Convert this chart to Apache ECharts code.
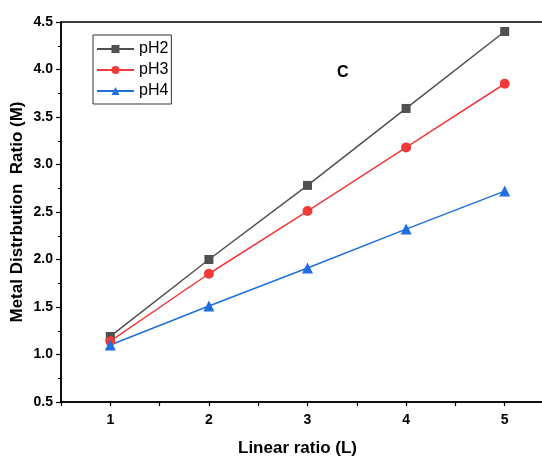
<!DOCTYPE html>
<html>
<head>
<meta charset="utf-8">
<script src="https://cdn.jsdelivr.net/npm/echarts@6/dist/echarts.min.js"></script>
<style>
  html, body { margin: 0; padding: 0; background: #fff; }
  #chart { width: 542px; height: 456px; }
</style>
</head>
<body>
<div id="chart"></div>
<script>
// Linear ratio (L) on the x axis
const ratios = [1, 2, 3, 4, 5];
// Metal distribution ratio (M) per pH
const pH2 = [1.19, 2.00, 2.78, 3.59, 4.40];
const pH3 = [1.14, 1.85, 2.51, 3.18, 3.85];
const pH4 = [1.10, 1.51, 1.91, 2.32, 2.72];

const font = 'Liberation Sans, Arial, sans-serif';
const pairs = arr => ratios.map((x, i) => [x, arr[i]]);

const chart = echarts.init(document.getElementById('chart'), null, { renderer: 'canvas' });

function line(name, data, color, symbol, size) {
  return {
    name, type: 'line', data: pairs(data),
    symbol, symbolSize: size,
    lineStyle: { color, width: 1.5 },
    itemStyle: { color },
    emphasis: { disabled: true },
    z: 3
  };
}

chart.setOption({
  animation: false,
  backgroundColor: '#fff',
  // plot area runs past the right edge of the canvas
  grid: {
    left: 61, top: 22, width: 493, bottom: 54,
    outerBoundsMode: 'none', containLabel: false,
    show: true, borderColor: '#000', borderWidth: 1.5, backgroundColor: 'transparent'
  },
  legend: {
    orient: 'vertical', left: 93, top: 35,
    itemWidth: 37, itemHeight: 10, itemGap: 5,
    padding: [6, 3, 5, 3],
    borderColor: '#333', borderWidth: 1,
    textStyle: { fontFamily: font, fontSize: 16, color: '#000' },
    data: ['pH2', 'pH3', 'pH4']
  },
  xAxis: {
    type: 'value', min: 0.5, max: 5.5, interval: 0.5,
    name: 'Linear ratio (L)', nameLocation: 'middle', nameGap: 38, nameMoveOverlap: false,
    nameTextStyle: { fontFamily: font, fontSize: 17, fontWeight: 'bold', color: '#000', padding: [0, 20, 0, 0] },
    axisLine: { lineStyle: { color: '#000', width: 1.5 } },
    axisTick: { length: 4, lineStyle: { color: '#000', width: 1.2 } },
    axisLabel: {
      fontFamily: font, fontSize: 14, fontWeight: 'bold', color: '#000', margin: 11,
      formatter: v => Number.isInteger(v) ? String(v) : ''
    },
    splitLine: { show: false }
  },
  yAxis: {
    type: 'value', min: 0.5, max: 4.5, interval: 0.5,
    name: 'Metal Distrbution  Ratio (M)', nameLocation: 'middle', nameGap: 35, nameMoveOverlap: false,
    nameTextStyle: { fontFamily: font, fontSize: 17, fontWeight: 'bold', color: '#000' },
    axisLine: { lineStyle: { color: '#000', width: 1.5 } },
    axisTick: { length: 5, lineStyle: { color: '#000', width: 1.2 } },
    minorTick: { show: true, splitNumber: 2, length: 3, lineStyle: { color: '#000', width: 1 } },
    axisLabel: {
      fontFamily: font, fontSize: 14, fontWeight: 'bold', color: '#000', margin: 8,
      formatter: v => v.toFixed(1)
    },
    splitLine: { show: false }
  },
  graphic: [{
    type: 'text', left: 337, top: 65,
    style: { text: 'C', fontFamily: font, fontSize: 16, fontWeight: 'bold', fill: '#000' }
  }],
  series: [
    line('pH2', pH2, '#505050', 'rect', 9),
    line('pH3', pH3, '#f03a3a', 'circle', 10),
    line('pH4', pH4, '#1f6fdc', 'triangle', 11)
  ]
});
</script>
</body>
</html>
